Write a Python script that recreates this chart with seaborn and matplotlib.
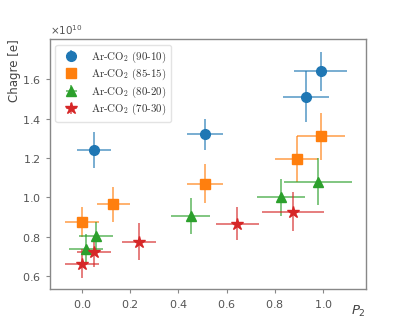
import seaborn as sns
import matplotlib.pyplot as plt
from matplotlib.font_manager import FontProperties

# ---------------------------------------------------
# Daten (Ladung in Einheiten von 1e10 e)
# ---------------------------------------------------
labels = ["Ar-CO$_2$ (90-10)", "Ar-CO$_2$ (85-15)",
          "Ar-CO$_2$ (80-20)", "Ar-CO$_2$ (70-30)"]
markers = ["o", "s", "^", "*"]

p2_9010 = [0.05, 0.51, 0.93, 0.99]
q_9010 = [1.24, 1.32, 1.51, 1.64]
p2err_9010 = [0.07, 0.075, 0.095, 0.11]
qerr_9010 = [0.09, 0.08, 0.13, 0.10]

p2_8515 = [0.0, 0.13, 0.51, 0.89, 0.99]
q_8515 = [0.875, 0.965, 1.07, 1.195, 1.31]
p2err_8515 = [0.07, 0.07, 0.075, 0.09, 0.10]
qerr_8515 = [0.076, 0.09, 0.10, 0.115, 0.12]

p2_8020 = [0.016, 0.057, 0.45, 0.826, 0.98]
q_8020 = [0.739, 0.805, 0.905, 1.0, 1.08]
p2err_8020 = [0.07, 0.07, 0.08, 0.10, 0.14]
qerr_8020 = [0.075, 0.07, 0.09, 0.095, 0.12]

p2_7030 = [0.0, 0.05, 0.235, 0.645, 0.875]
q_7030 = [0.663, 0.724, 0.775, 0.866, 0.927]
p2err_7030 = [0.07, 0.07, 0.07, 0.09, 0.13]
qerr_7030 = [0.074, 0.08, 0.095, 0.085, 0.10]

series = [
    (p2_9010, q_9010, p2err_9010, qerr_9010),
    (p2_8515, q_8515, p2err_8515, qerr_8515),
    (p2_8020, q_8020, p2err_8020, qerr_8020),
    (p2_7030, q_7030, p2err_7030, qerr_7030),
]

sns.set_style("white")
plt.rcParams["axes.formatter.use_mathtext"] = True
colors = sns.color_palette("tab10")

fig = plt.figure(figsize=(4.07, 3.26), dpi=100)
ax = fig.add_axes([0.123, 0.113, 0.776, 0.767])

for i, (x, y, xe, ye) in enumerate(series):
    scale = 1e10
    ax.errorbar(x, [v * scale for v in y],
                xerr=xe, yerr=[v * scale for v in ye],
                fmt=markers[i], color=colors[i], ecolor=colors[i],
                elinewidth=1.2, alpha=1.0,
                markersize=9 if markers[i] == "*" else 7,
                label=labels[i])
    for line in ax.containers[-1].lines[2]:
        line.set_alpha(0.7)

ax.set_xlim(-0.133, 1.178)
ax.set_ylim(0.534e10, 1.803e10)
ax.set_xticks([0.0, 0.2, 0.4, 0.6, 0.8, 1.0])
ax.set_yticks([0.6e10, 0.8e10, 1.0e10, 1.2e10, 1.4e10, 1.6e10])

for s in ax.spines.values():
    s.set_color("#888888")
    s.set_linewidth(1.0)
ax.tick_params(axis="both", direction="out", length=3, width=0.8,
               color="#888888", labelcolor="#555555", labelsize=8,
               bottom=True, left=True)
ax.yaxis.get_offset_text().set_fontsize(7.5)
ax.yaxis.get_offset_text().set_color("#555555")

ax.set_ylabel("Chagre [e]", fontsize=8.5, color="#444444", loc="top")
ax.yaxis.set_label_coords(-0.092, 1.0)
ax.set_xlabel("$P_2$", fontsize=9.5, color="#444444", loc="right")
ax.xaxis.set_label_coords(1.0, -0.06)

prop = FontProperties(family="cmr10", math_fontfamily="cm", size=7.8)
leg = ax.legend(loc="upper left", prop=prop, frameon=True,
                handletextpad=0.8, borderpad=0.45, labelspacing=0.2,
                bbox_to_anchor=(0.0, 1.0))
leg.get_frame().set_edgecolor("#dddddd")
for t in leg.get_texts():
    t.set_color("#333333")

plt.savefig("out.png", dpi=100)
